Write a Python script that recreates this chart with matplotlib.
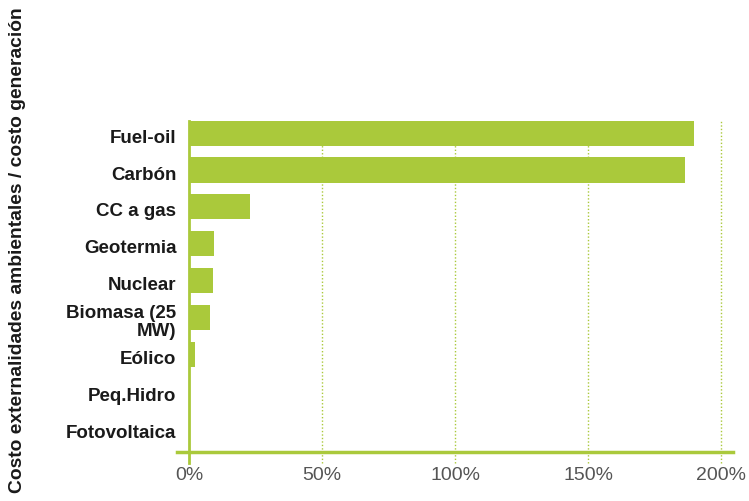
import numpy as np
import matplotlib.pyplot as plt
import matplotlib.transforms as mtransforms

categories = ['Fuel-oil', 'Carbón', 'CC a gas', 'Geotermia', 'Nuclear',
              'Biomasa (25\nMW)', 'Eólico', 'Peq.Hidro', 'Fotovoltaica']
values = [190, 186.5, 23, 9.5, 9, 7.8, 2.2, 0.3, 0.1]
xticks = [0, 50, 100, 150, 200]
xtick_labels = ['0%', '50%', '100%', '150%', '200%']

green = '#aac93b'

fig = plt.figure(figsize=(7.49, 5.01), dpi=100)
W, H = 749, 501
ax = fig.add_axes([177 / W, 1 - 452 / H, (733 - 177) / W, (452 - 121) / H])

pos = np.arange(len(categories))
ax.barh(pos, values, height=0.68, color=green, zorder=3)

ax.set_xlim(-4.5, 204.5)
ax.set_ylim(8.65, -0.33)

# grid lines that run a bit below the bottom line
for x in xticks:
    if x == 0:
        ax.axvline(x, ymin=-0.032, ymax=1, color=green, lw=2, clip_on=False, zorder=4)
    else:
        ax.axvline(x, ymin=-0.032, ymax=1, color=green, lw=1, ls=(0, (1, 1.5)),
                   clip_on=False, zorder=1)

for s in ['top', 'right', 'left']:
    ax.spines[s].set_visible(False)
ax.spines['bottom'].set_color(green)
ax.spines['bottom'].set_linewidth(2.5)

ax.set_yticks(pos)
ax.set_yticklabels(categories, fontsize=13.5, fontweight='bold',
                   family='Liberation Sans', color='#1a1a1a', linespacing=1.05)
ax.tick_params(axis='y', length=0, pad=0.5)
# labels sit a little lower than bar centres
shift = mtransforms.ScaledTranslation(0, -3 / 100, fig.dpi_scale_trans)
for lab in ax.get_yticklabels():
    lab.set_transform(lab.get_transform() + shift)

ax.set_xticks(xticks)
ax.set_xticklabels(xtick_labels, fontsize=14, family='Liberation Sans', color='#555555')
ax.tick_params(axis='x', length=0, pad=11)

fig.text(18 / W, 0.5, 'Costo externalidades ambientales / costo generación',
         rotation=90, va='center', ha='center', fontsize=13.9, fontweight='bold',
         family='Liberation Sans', color='#1a1a1a')

plt.savefig('out.png', dpi=100)
